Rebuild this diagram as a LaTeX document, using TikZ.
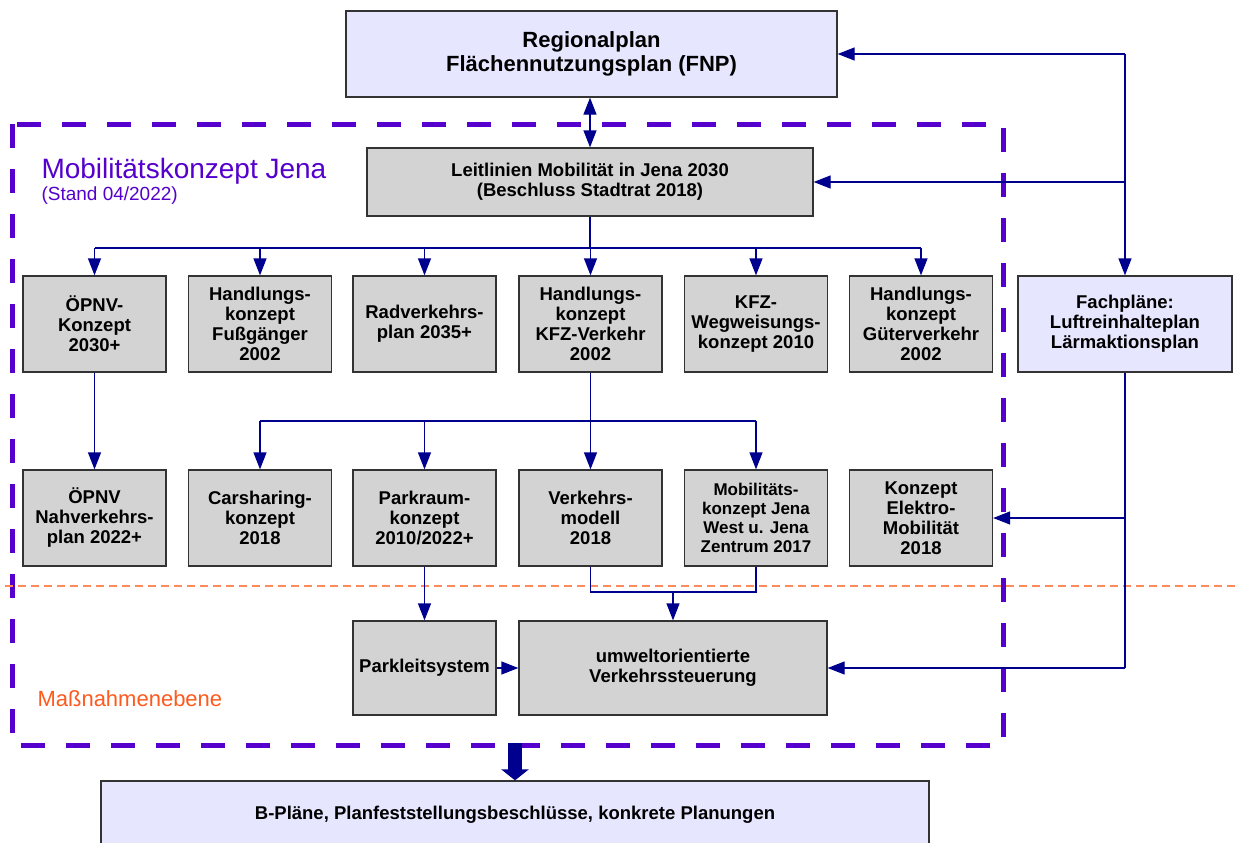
\documentclass[tikz,border=0pt]{standalone}
\usepackage{fontspec}
\setmainfont{Liberation Sans}
\usetikzlibrary{arrows.meta,calc}
\definecolor{mkpurple}{HTML}{5500CC}
\definecolor{connc}{HTML}{00008E}
\definecolor{lav}{HTML}{E6E6FF}
\definecolor{grayfill}{HTML}{D3D3D3}
\definecolor{orangetxt}{HTML}{FF5A1E}
\definecolor{orangeline}{HTML}{FF8A5C}
\definecolor{boxline}{HTML}{333333}
\tikzset{
  basebox/.style={draw=boxline, line width=1.3pt, align=center, inner sep=2pt,
    font=\fontsize{18.5}{20}\selectfont\bfseries},
  graybox/.style={basebox, fill=grayfill},
  lavbox/.style={basebox, fill=lav},
  smallbox/.style={graybox, minimum width=143pt, minimum height=96pt},
  conn/.style={draw=connc, line width=1.3pt},
  arr/.style={conn, -{Triangle[length=17pt,width=13pt]}},
  darr/.style={conn, {Triangle[length=17pt,width=13pt]}-{Triangle[length=17pt,width=13pt]}},
  fat/.style={draw=connc, line width=14pt, -{Triangle[length=11pt,width=27pt]}},
  mkborder/.style={draw=mkpurple, line width=5pt, dash pattern=on 24pt off 21pt},
  lvlline/.style={draw=orangeline, line width=1.5pt, dash pattern=on 8pt off 5pt},
}
\begin{document}
\begin{tikzpicture}[x=1pt,y=-1pt]
\clip (0,0) rectangle (1240,843);
\fill[white] (0,0) rectangle (1240,843);

% boundary of Mobilitaetskonzept
\draw[mkborder] (12,124) rectangle (1003,745);
\draw[lvlline] (5,586) -- (1240,586);

\node[anchor=base west, text=mkpurple, font=\fontsize{28}{30}\selectfont] (title) at (38,178) {Mobilitätskonzept Jena};
\node[anchor=base west, text=mkpurple, font=\fontsize{19}{20}\selectfont] (stand) at (38,200) {(Stand 04/2022)};
\node[anchor=base west, text=orangetxt, font=\fontsize{22}{24}\selectfont] (mass) at (34,706) {Maßnahmenebene};

% nodes
\node[lavbox, minimum width=491pt, minimum height=86pt, font=\fontsize{22}{24}\selectfont\bfseries] (reg) at (591.5,54) {Regionalplan\\Flächennutzungsplan (FNP)};
\node[graybox, minimum width=446pt, minimum height=68pt] (leit) at (590,182) {Leitlinien Mobilität in Jena 2030\\(Beschluss Stadtrat 2018)};

\node[smallbox] (opnv) at (94.5,324) {ÖPNV-\\Konzept\\2030+};
\node[smallbox] (fuss) at (260,324) {Handlungs-\\konzept\\Fußgänger\\2002};
\node[smallbox] (rad) at (424.5,324) {Radverkehrs-\\plan 2035+};
\node[smallbox] (kfz) at (590.5,324) {Handlungs-\\konzept\\KFZ-Verkehr\\2002};
\node[smallbox] (weg) at (756,324) {KFZ-\\Wegweisungs-\\konzept 2010};
\node[smallbox] (gueter) at (921,324) {Handlungs-\\konzept\\Güterverkehr\\2002};

\node[lavbox, minimum width=214pt, minimum height=96pt] (fach) at (1125,324) {Fachpläne:\\Luftreinhalteplan\\Lärmaktionsplan};

\node[smallbox] (nvp) at (94.5,518) {ÖPNV\\Nahverkehrs-\\plan 2022+};
\node[smallbox] (car) at (260,518) {Carsharing-\\konzept\\2018};
\node[smallbox] (park) at (424.5,518) {Parkraum-\\konzept\\2010/2022+};
\node[smallbox] (vm) at (590.5,518) {Verkehrs-\\modell\\2018};
\node[smallbox, font=\fontsize{17}{19}\selectfont\bfseries] (mw) at (756,518) {Mobilitäts-\\konzept Jena\\West u. Jena\\Zentrum 2017};
\node[smallbox] (elek) at (921,518) {Konzept\\Elektro-\\Mobilität\\2018};

\node[graybox, minimum width=143pt, minimum height=94pt] (pls) at (424.5,668) {Parkleitsystem};
\node[graybox, minimum width=308pt, minimum height=94pt] (umw) at (673,668) {umweltorientierte\\Verkehrssteuerung};

\node[lavbox, minimum width=828pt, minimum height=67pt] (bp) at (515,814.5) {B-Pläne, Planfeststellungsbeschlüsse, konkrete Planungen};

% connectors
\draw[darr] (leit.north |- reg.south) -- (leit.north);

\coordinate (b1) at (590.5,248);
\draw[conn] (leit.south) -- (leit.south |- b1);
\draw[conn] (opnv.north |- b1) -- (gueter.north |- b1);
\foreach \n in {opnv,fuss,rad,kfz,weg,gueter}{
  \draw[arr] (\n.north |- b1) -- (\n.north);
}

\draw[arr] (opnv.south) -- (nvp.north);

\coordinate (b2) at (590.5,421);
\draw[arr] (kfz.south) -- (vm.north);
\draw[conn] (car.north |- b2) -- (mw.north |- b2);
\foreach \n in {car,park,mw}{
  \draw[arr] (\n.north |- b2) -- (\n.north);
}

\draw[arr] (park.south) -- (pls.north);

\coordinate (b3) at (673,592);
\draw[conn] (vm.south) -- (vm.south |- b3) -- (mw.south |- b3) -- (mw.south);
\draw[arr] (umw.north |- b3) -- (umw.north);

\draw[arr] (pls.east) -- (umw.west);

% Fachplaene connections
\coordinate (ftop) at (fach.north |- reg.east);
\draw[arr] (ftop) -- (reg.east);
\draw[arr] (ftop) -- (fach.north);
\draw[arr] (fach.north |- leit.east) -- (leit.east);

\coordinate (fbot) at (fach.south |- umw.east);
\draw[conn] (fach.south) -- (fbot);
\draw[arr] (fbot) -- (umw.east);
\draw[arr] (fach.south |- elek.east) -- (elek.east);

% thick arrow
\coordinate (mkbot) at (515,743);
\draw[fat] (mkbot) -- (bp.north);
\end{tikzpicture}
\end{document}
